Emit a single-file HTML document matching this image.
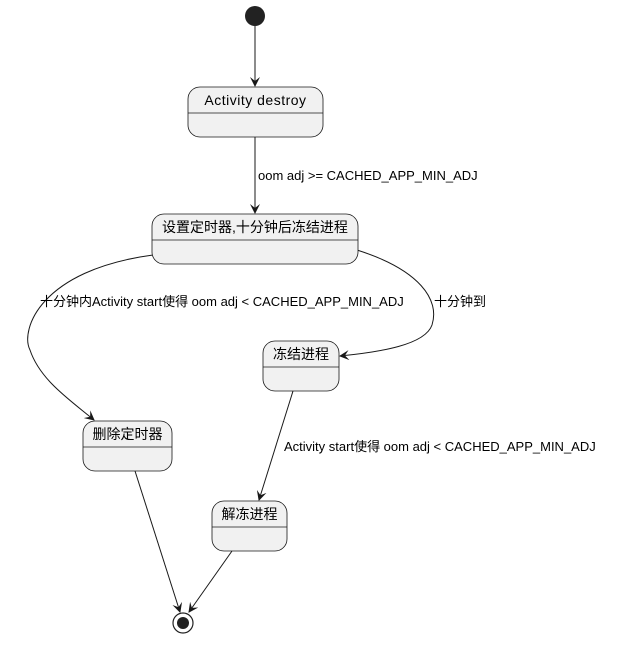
<!DOCTYPE html>
<html><head><meta charset="utf-8"><style>
html,body{margin:0;padding:0;background:#fff;}
svg text{font-family:"Liberation Sans","Noto Sans CJK SC",sans-serif;fill:#000;}
</style></head><body>
<svg width="618" height="640" viewBox="0 0 618 640" xmlns="http://www.w3.org/2000/svg">
<defs><marker id="a" viewBox="0 0 10 10" refX="9" refY="5" markerWidth="10" markerHeight="10" orient="auto" markerUnits="userSpaceOnUse"><path d="M0,0 L10,5 L0,10 L4,5 Z" fill="#181818"/></marker></defs>
<g stroke="#181818" stroke-width="1" fill="none">
<line x1="255" y1="26" x2="255" y2="86" marker-end="url(#a)"/>
<line x1="255" y1="137" x2="255" y2="213" marker-end="url(#a)"/>
<path d="M153,255 C40,270 20,330 30,350 C40,380 70,400 94,420" marker-end="url(#a)"/>
<path d="M357,250 C420,270 440,300 432,325 C425,345 380,352 340,356" marker-end="url(#a)"/>
<line x1="293" y1="391" x2="259" y2="500" marker-end="url(#a)"/>
<line x1="135" y1="471" x2="180" y2="612" marker-end="url(#a)"/>
<line x1="232" y1="551" x2="189" y2="612" marker-end="url(#a)"/>
</g>
<circle cx="255" cy="16" r="10" fill="#222"/>
<circle cx="183" cy="623" r="10" fill="#fff" stroke="#222" stroke-width="1.2"/>
<circle cx="183" cy="623" r="6" fill="#222"/>
<g fill="#f1f1f1" stroke="#181818" stroke-width="0.8">
<rect x="188" y="87" width="135" height="50" rx="12"/>
<rect x="152" y="214" width="206" height="50" rx="12"/>
<rect x="263" y="341" width="76" height="50" rx="12"/>
<rect x="83" y="421" width="89" height="50" rx="12"/>
<rect x="212" y="501" width="75" height="50" rx="12"/>
</g>
<g stroke="#181818" stroke-width="0.8">
<line x1="188" y1="113" x2="323" y2="113"/>
<line x1="152" y1="240" x2="358" y2="240"/>
<line x1="263" y1="367" x2="339" y2="367"/>
<line x1="83" y1="447" x2="172" y2="447"/>
<line x1="212" y1="527" x2="287" y2="527"/>
</g>
<g font-size="14" text-anchor="middle">
<text x="255.5" y="105" letter-spacing="0.5">Activity destroy</text>
<text x="255" y="232">设置定时器,十分钟后冻结进程</text>
<text x="301" y="359">冻结进程</text>
<text x="127.5" y="439">删除定时器</text>
<text x="249.5" y="519">解冻进程</text>
</g>
<g font-size="13">
<text x="258" y="180">oom adj &gt;= CACHED_APP_MIN_ADJ</text>
<text x="40" y="306">十分钟内Activity start使得 oom adj &lt; CACHED_APP_MIN_ADJ</text>
<text x="434" y="306">十分钟到</text>
<text x="284" y="451">Activity start使得 oom adj &lt; CACHED_APP_MIN_ADJ</text>
</g>
</svg>
</body></html>
